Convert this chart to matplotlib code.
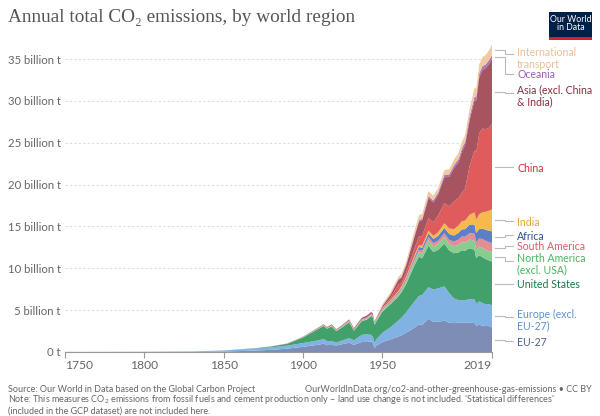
import matplotlib
matplotlib.use("Agg")
import matplotlib.pyplot as plt
import numpy as np
from matplotlib.patches import Rectangle
from matplotlib.lines import Line2D

plt.rcParams['font.family'] = ['Lato', 'DejaVu Sans']
plt.rcParams['mathtext.fontset'] = 'custom'
plt.rcParams['mathtext.rm'] = 'Lato'
plt.rcParams['mathtext.it'] = 'Lato'

years = [1750, 1800, 1830, 1850, 1870, 1880, 1890, 1900,
         1910, 1913, 1915, 1918, 1921, 1925, 1929, 1932,
         1937, 1940, 1943, 1944, 1945, 1946, 1950, 1955,
         1960, 1962, 1965, 1970, 1973, 1975, 1979, 1982,
         1985, 1989, 1992, 1995, 1998, 2000, 2002, 2005,
         2008, 2009, 2011, 2013, 2015, 2017, 2019]

# billion tonnes CO2
eu27 = [0.003, 0.008, 0.015, 0.05, 0.17, 0.26, 0.40, 0.62,
        0.88, 1.00, 0.82, 0.85, 0.78, 0.95, 1.10, 0.85,
        1.20, 1.20, 1.25, 1.05, 0.45, 0.75, 1.20, 1.50,
        1.85, 2.00, 2.30, 2.90, 3.30, 3.20, 4.00, 3.60,
        3.60, 3.75, 3.50, 3.45, 3.50, 3.45, 3.50, 3.55,
        3.45, 3.15, 3.25, 3.15, 3.10, 3.10, 2.95]
europe_excl = [0.009, 0.02, 0.05, 0.13, 0.24, 0.30, 0.36, 0.45,
               0.52, 0.56, 0.50, 0.45, 0.36, 0.45, 0.55, 0.55,
               0.85, 0.90, 0.80, 0.75, 0.60, 0.75, 1.10, 1.45,
               1.90, 2.10, 2.45, 3.10, 3.40, 3.60, 3.75, 3.85,
               4.00, 4.10, 3.55, 2.95, 2.70, 2.70, 2.70, 2.75,
               2.85, 2.60, 2.80, 2.70, 2.60, 2.65, 2.60]
usa = [0.0, 0.0003, 0.002, 0.005, 0.04, 0.10, 0.22, 0.66,
       1.40, 1.55, 1.45, 1.75, 1.35, 1.60, 1.90, 1.15,
       1.65, 1.75, 2.25, 2.30, 2.20, 2.10, 2.54, 2.75,
       2.89, 3.05, 3.40, 4.30, 4.70, 4.40, 4.95, 4.50,
       4.60, 5.10, 5.10, 5.40, 5.70, 6.00, 5.90, 6.10,
       5.90, 5.50, 5.50, 5.50, 5.40, 5.20, 5.26]
north_america_excl = [0, 0, 0, 0.0005, 0.002, 0.005, 0.01, 0.03,
                      0.05, 0.06, 0.05, 0.07, 0.06, 0.06, 0.08, 0.06,
                      0.07, 0.08, 0.10, 0.10, 0.10, 0.10, 0.13, 0.17,
                      0.22, 0.25, 0.32, 0.45, 0.52, 0.57, 0.65, 0.65,
                      0.68, 0.78, 0.78, 0.82, 0.90, 0.95, 0.97, 1.05,
                      1.05, 1.00, 1.05, 1.10, 1.10, 1.10, 1.10]
south_america = [0, 0, 0, 0.0003, 0.001, 0.002, 0.004, 0.008,
                 0.015, 0.02, 0.015, 0.015, 0.02, 0.025, 0.035, 0.03,
                 0.04, 0.045, 0.04, 0.045, 0.05, 0.06, 0.08, 0.11,
                 0.14, 0.15, 0.18, 0.25, 0.30, 0.32, 0.40, 0.40,
                 0.40, 0.45, 0.48, 0.55, 0.65, 0.70, 0.70, 0.78,
                 0.88, 0.88, 0.95, 1.05, 1.10, 1.08, 1.10]
africa = [0, 0, 0, 0, 0.0005, 0.001, 0.003, 0.006,
          0.012, 0.015, 0.014, 0.016, 0.018, 0.022, 0.028, 0.025,
          0.035, 0.045, 0.05, 0.05, 0.055, 0.06, 0.10, 0.12,
          0.15, 0.16, 0.20, 0.28, 0.33, 0.36, 0.45, 0.52,
          0.58, 0.65, 0.70, 0.74, 0.80, 0.85, 0.90, 1.00,
          1.10, 1.10, 1.15, 1.25, 1.30, 1.35, 1.40]
india = [0, 0, 0, 0, 0.001, 0.003, 0.006, 0.012,
         0.02, 0.025, 0.025, 0.028, 0.03, 0.032, 0.035, 0.032,
         0.04, 0.045, 0.05, 0.05, 0.05, 0.05, 0.07, 0.08,
         0.12, 0.14, 0.17, 0.20, 0.22, 0.25, 0.30, 0.36,
         0.43, 0.55, 0.65, 0.76, 0.88, 0.98, 1.02, 1.18,
         1.45, 1.60, 1.75, 1.95, 2.15, 2.40, 2.62]
china = [0, 0, 0, 0, 0, 0, 0.001, 0.01,
         0.015, 0.02, 0.02, 0.02, 0.025, 0.03, 0.04, 0.04,
         0.05, 0.06, 0.06, 0.05, 0.04, 0.04, 0.08, 0.28,
         0.78, 0.44, 0.50, 0.80, 1.00, 1.15, 1.50, 1.60,
         2.00, 2.40, 2.65, 3.30, 3.30, 3.40, 3.80, 5.90,
         7.40, 8.00, 9.70, 10.00, 9.85, 9.90, 10.20]
asia_excl = [0, 0, 0, 0, 0.001, 0.003, 0.008, 0.03,
             0.05, 0.06, 0.07, 0.08, 0.07, 0.09, 0.10, 0.09,
             0.15, 0.20, 0.18, 0.15, 0.07, 0.09, 0.20, 0.35,
             0.55, 0.62, 0.85, 1.40, 1.80, 1.90, 2.40, 2.40,
             2.50, 3.10, 3.50, 4.00, 4.30, 4.90, 5.20, 5.50,
             6.00, 6.20, 6.70, 7.00, 7.30, 7.60, 7.75]
oceania = [0, 0, 0, 0.0002, 0.002, 0.004, 0.008, 0.015,
           0.022, 0.025, 0.022, 0.022, 0.025, 0.027, 0.03, 0.025,
           0.032, 0.035, 0.04, 0.04, 0.04, 0.042, 0.05, 0.065,
           0.085, 0.09, 0.11, 0.15, 0.17, 0.18, 0.22, 0.24,
           0.25, 0.29, 0.31, 0.33, 0.36, 0.38, 0.39, 0.42,
           0.44, 0.45, 0.45, 0.45, 0.44, 0.46, 0.46]
intl_transport = [0, 0, 0, 0, 0, 0, 0, 0,
                  0, 0, 0, 0, 0, 0, 0, 0,
                  0, 0, 0, 0, 0, 0, 0.18, 0.25,
                  0.30, 0.33, 0.40, 0.55, 0.62, 0.56, 0.62, 0.55,
                  0.52, 0.58, 0.62, 0.66, 0.72, 0.78, 0.78, 0.92,
                  1.05, 0.98, 1.05, 1.08, 1.12, 1.20, 1.25]

series = [eu27, europe_excl, usa, north_america_excl, south_america, africa,
          india, china, asia_excl, oceania, intl_transport]
labels = ["EU-27", "Europe (excl.\nEU-27)", "United States", "North America\n(excl. USA)",
          "South America", "Africa", "India", "China", "Asia (excl. China\n& India)",
          "Oceania", "International\ntransport"]
area_colors = ["#7d8db5", "#80b2e3", "#42a06b", "#87cd8f", "#e48d94", "#5c7fc6",
               "#f5b94e", "#e05b5c", "#a6545f", "#a377b8", "#f3c9a2"]
text_colors = ["#4f5f8f", "#5f93cc", "#1b7a45", "#4db35c", "#d5606a", "#2c4f8c",
               "#eba52a", "#c8323a", "#8c2a3c", "#9b5fb5", "#ecbf98"]
label_py = [341, 313, 284, 257, 246, 235, 221, 167, 89, 74, 52]

W, H = 600, 416
fig = plt.figure(figsize=(6, 4.16), dpi=100)
ax = fig.add_axes([65 / W, 1 - 352 / H, (492 - 65) / W, (352 - 42.3) / H])

ax.stackplot(years, *series, colors=area_colors, linewidth=0)

ax.set_xlim(1750, 2019)
ax.set_ylim(0, 37)
yt = [0, 5, 10, 15, 20, 25, 30, 35]
ax.set_yticks(yt)
ax.set_yticklabels(["0 t"] + [f"{v} billion t" for v in yt[1:]])
ax.set_xticks([1750, 1800, 1850, 1900, 1950, 2019])
ax.tick_params(axis='y', length=0, labelsize=8.2, colors="#666666", pad=3)
ax.tick_params(axis='x', length=4, labelsize=8.7, colors="#666666", pad=2, color="#999999")
xl = ax.get_xticklabels()
xl[0].set_ha('left')
xl[-1].set_ha('right')
for s in ["top", "right", "left"]:
    ax.spines[s].set_visible(False)
ax.spines["bottom"].set_color("#999999")
ax.spines["bottom"].set_linewidth(0.8)
ax.grid(axis='y', linestyle=(0, (2, 2)), color="#dddddd", linewidth=0.8)
ax.set_axisbelow(True)

# connectors and labels
cum = np.cumsum(np.array([s[-1] for s in series]))
bottoms = np.concatenate([[0], cum[:-1]])
mids = (cum + bottoms) / 2
fig.canvas.draw()
for mid, lab, col, py in zip(mids, labels, text_colors, label_py):
    _, y_disp = ax.transData.transform((2019, mid))
    y0 = H - y_disp
    nlines = lab.count("\n") + 1
    yl = py if nlines == 1 else py + 4
    if lab.startswith("International"):
        yl = py + 2
    xs = [495, 505, 505, 513]
    ys = [y0, y0, yl, yl]
    fig.add_artist(Line2D([x / W for x in xs], [1 - y / H for y in ys],
                          transform=fig.transFigure, color="#bbbbbb", lw=0.8))
    fig.text(517 / W, 1 - (py - 4.5) / H, lab, color=col, fontsize=7.6,
             va='top', ha='left', linespacing=1.05)

# title
fig.text(8 / W, 1 - 17 / H, "Annual total CO₂ emissions, by world region",
         fontsize=13.9, color="#555555", va='center', ha='left',
         family=['Liberation Serif', 'DejaVu Serif'])

# logo
fig.add_artist(Rectangle((549 / W, 1 - 39.6 / H), 43 / W, 28 / H,
                         transform=fig.transFigure, color="#002147", lw=0))
fig.add_artist(Rectangle((549 / W, 1 - 39.6 / H), 43 / W, 3 / H,
                         transform=fig.transFigure, color="#ce261e", lw=0))
fig.text(570.5 / W, 1 - 23.5 / H, "Our World\nin Data", color="white", fontsize=6.3,
         ha='center', va='center', linespacing=1.0)

# footer
fig.text(8 / W, 1 - 389 / H, "Source: Our World in Data based on the Global Carbon Project",
         fontsize=6.5, color="#666666", va='center', ha='left')
fig.text(592 / W, 1 - 389 / H,
         "OurWorldInData.org/co2-and-other-greenhouse-gas-emissions • CC BY",
         fontsize=6.5, color="#666666", va='center', ha='right')
fig.text(8 / W, 1 - 400 / H,
         r"Note: This measures CO$_2$ emissions from fossil fuels and cement production only – land use change is not included. 'Statistical differences'",
         fontsize=6.5, color="#666666", va='center', ha='left')
fig.text(8 / W, 1 - 411 / H,
         "(included in the GCP dataset) are not included here.",
         fontsize=6.5, color="#666666", va='center', ha='left')

fig.savefig("out.png", dpi=100, facecolor="white")
